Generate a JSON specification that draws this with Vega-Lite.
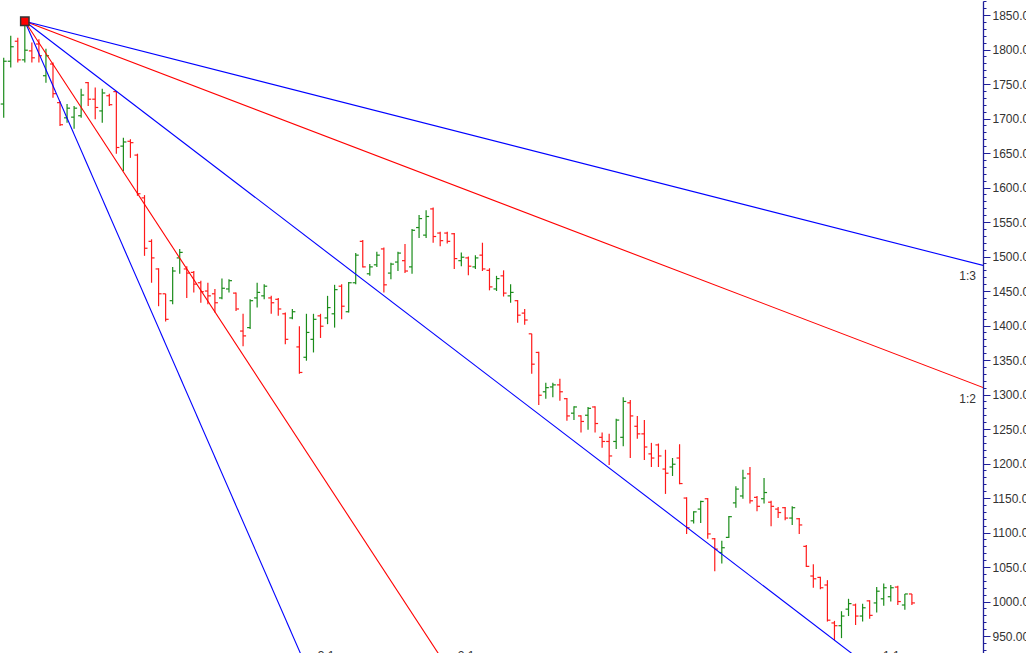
{
  "$schema": "https://vega.github.io/schema/vega-lite/v6.json",
  "width": 982,
  "height": 653,
  "padding": 0,
  "autosize": {"type": "pad"},
  "background": "white",
  "config": {
    "view": {"stroke": null},
    "axis": {"labelOverlap": false, "labelFlush": false, "labelBound": false}
  },
  "datasets": {
    "bars": [
      {"i":0,"o":1721,"h":1788,"l":1701,"c":1783},{"i":1,"o":1783,"h":1820,"l":1774,"c":1804},{"i":2,"o":1812,"h":1817,"l":1781,"c":1785},{"i":3,"o":1785,"h":1841,"l":1781,"c":1799},{"i":4,"o":1798,"h":1810,"l":1781,"c":1788},{"i":5,"o":1808,"h":1815,"l":1781,"c":1791},{"i":6,"o":1762,"h":1801,"l":1752,"c":1791},{"i":7,"o":1779,"h":1781,"l":1730,"c":1736},{"i":8,"o":1723,"h":1725,"l":1689,"c":1691},{"i":9,"o":1701,"h":1721,"l":1694,"c":1715},
      {"i":10,"o":1702,"h":1718,"l":1685,"c":1715},{"i":11,"o":1704,"h":1743,"l":1701,"c":1734},{"i":12,"o":1752,"h":1753,"l":1718,"c":1728},{"i":13,"o":1728,"h":1745,"l":1699,"c":1716},{"i":14,"o":1711,"h":1743,"l":1694,"c":1737},{"i":15,"o":1733,"h":1736,"l":1718,"c":1720},{"i":16,"o":1739,"h":1740,"l":1649,"c":1658},{"i":17,"o":1660,"h":1672,"l":1624,"c":1666},{"i":18,"o":1667,"h":1670,"l":1643,"c":1665},{"i":19,"o":1647,"h":1649,"l":1588,"c":1591},
      {"i":20,"o":1585,"h":1589,"l":1501,"c":1512},{"i":21,"o":1522,"h":1525,"l":1462,"c":1498},{"i":22,"o":1482,"h":1483,"l":1428,"c":1446},{"i":23,"o":1446,"h":1446,"l":1406,"c":1409},{"i":24,"o":1436,"h":1485,"l":1431,"c":1479},{"i":25,"o":1498,"h":1511,"l":1475,"c":1506},{"i":26,"o":1482,"h":1486,"l":1440,"c":1476},{"i":27,"o":1477,"h":1479,"l":1448,"c":1460},{"i":28,"o":1462,"h":1465,"l":1433,"c":1449},{"i":29,"o":1450,"h":1462,"l":1431,"c":1443},
      {"i":30,"o":1446,"h":1453,"l":1419,"c":1433},{"i":31,"o":1440,"h":1468,"l":1438,"c":1454},{"i":32,"o":1453,"h":1467,"l":1448,"c":1465},{"i":33,"o":1447,"h":1448,"l":1421,"c":1424},{"i":34,"o":1392,"h":1417,"l":1370,"c":1385},{"i":35,"o":1397,"h":1438,"l":1395,"c":1436},{"i":36,"o":1440,"h":1462,"l":1426,"c":1448},{"i":37,"o":1443,"h":1460,"l":1438,"c":1457},{"i":38,"o":1440,"h":1443,"l":1417,"c":1433},{"i":39,"o":1438,"h":1440,"l":1414,"c":1424},
      {"i":40,"o":1417,"h":1419,"l":1373,"c":1380},{"i":41,"o":1411,"h":1424,"l":1409,"c":1420},{"i":42,"o":1369,"h":1399,"l":1330,"c":1332},{"i":43,"o":1354,"h":1417,"l":1349,"c":1390},{"i":44,"o":1380,"h":1417,"l":1361,"c":1409},{"i":45,"o":1414,"h":1417,"l":1382,"c":1399},{"i":46,"o":1411,"h":1443,"l":1402,"c":1426},{"i":47,"o":1417,"h":1459,"l":1397,"c":1452},{"i":48,"o":1457,"h":1460,"l":1409,"c":1428},{"i":49,"o":1420,"h":1463,"l":1419,"c":1462},
      {"i":50,"o":1462,"h":1505,"l":1460,"c":1502},{"i":51,"o":1522,"h":1524,"l":1484,"c":1485},{"i":52,"o":1475,"h":1489,"l":1472,"c":1485},{"i":53,"o":1488,"h":1507,"l":1485,"c":1502},{"i":54,"o":1511,"h":1513,"l":1448,"c":1459},{"i":55,"o":1476,"h":1491,"l":1467,"c":1489},{"i":56,"o":1492,"h":1507,"l":1479,"c":1505},{"i":57,"o":1494,"h":1518,"l":1476,"c":1479},{"i":58,"o":1485,"h":1540,"l":1475,"c":1538},{"i":59,"o":1542,"h":1560,"l":1527,"c":1555},
      {"i":60,"o":1531,"h":1567,"l":1527,"c":1558},{"i":61,"o":1569,"h":1571,"l":1520,"c":1529},{"i":62,"o":1534,"h":1536,"l":1515,"c":1523},{"i":63,"o":1534,"h":1536,"l":1519,"c":1522},{"i":64,"o":1533,"h":1534,"l":1482,"c":1497},{"i":65,"o":1494,"h":1506,"l":1486,"c":1499},{"i":66,"o":1498,"h":1500,"l":1473,"c":1486},{"i":67,"o":1485,"h":1502,"l":1482,"c":1498},{"i":68,"o":1502,"h":1520,"l":1479,"c":1482},{"i":69,"o":1480,"h":1483,"l":1451,"c":1456},
      {"i":70,"o":1453,"h":1472,"l":1450,"c":1468},{"i":71,"o":1472,"h":1480,"l":1442,"c":1447},{"i":72,"o":1443,"h":1460,"l":1433,"c":1448},{"i":73,"o":1436,"h":1437,"l":1404,"c":1415},{"i":74,"o":1418,"h":1424,"l":1401,"c":1408},{"i":75,"o":1388,"h":1388,"l":1330,"c":1344},{"i":76,"o":1361,"h":1362,"l":1285,"c":1299},{"i":77,"o":1304,"h":1317,"l":1294,"c":1310},{"i":78,"o":1311,"h":1317,"l":1296,"c":1314},{"i":79,"o":1314,"h":1323,"l":1291,"c":1304},
      {"i":80,"o":1294,"h":1295,"l":1262,"c":1269},{"i":81,"o":1273,"h":1283,"l":1263,"c":1282},{"i":82,"o":1269,"h":1270,"l":1245,"c":1261},{"i":83,"o":1270,"h":1282,"l":1249,"c":1280},{"i":84,"o":1282,"h":1283,"l":1245,"c":1258},{"i":85,"o":1238,"h":1245,"l":1223,"c":1232},{"i":86,"o":1232,"h":1243,"l":1198,"c":1211},{"i":87,"o":1232,"h":1265,"l":1221,"c":1263},{"i":88,"o":1238,"h":1296,"l":1225,"c":1290},{"i":89,"o":1288,"h":1292,"l":1208,"c":1269},
      {"i":90,"o":1254,"h":1269,"l":1236,"c":1243},{"i":91,"o":1243,"h":1263,"l":1205,"c":1224},{"i":92,"o":1214,"h":1230,"l":1195,"c":1208},{"i":93,"o":1227,"h":1229,"l":1195,"c":1211},{"i":94,"o":1192,"h":1220,"l":1156,"c":1186},{"i":95,"o":1195,"h":1208,"l":1182,"c":1199},{"i":96,"o":1208,"h":1228,"l":1170,"c":1171},{"i":97,"o":1150,"h":1151,"l":1098,"c":1107},{"i":98,"o":1117,"h":1131,"l":1113,"c":1130},{"i":99,"o":1134,"h":1146,"l":1114,"c":1145},
      {"i":100,"o":1149,"h":1150,"l":1091,"c":1098},{"i":101,"o":1091,"h":1092,"l":1044,"c":1076},{"i":102,"o":1071,"h":1088,"l":1055,"c":1078},{"i":103,"o":1093,"h":1124,"l":1092,"c":1123},{"i":104,"o":1143,"h":1167,"l":1136,"c":1163},{"i":105,"o":1153,"h":1191,"l":1149,"c":1179},{"i":106,"o":1185,"h":1195,"l":1142,"c":1146},{"i":107,"o":1151,"h":1153,"l":1131,"c":1138},{"i":108,"o":1149,"h":1179,"l":1142,"c":1158},{"i":109,"o":1144,"h":1146,"l":1109,"c":1138},
      {"i":110,"o":1134,"h":1137,"l":1121,"c":1129},{"i":111,"o":1136,"h":1137,"l":1118,"c":1121},{"i":112,"o":1121,"h":1138,"l":1111,"c":1136},{"i":113,"o":1120,"h":1121,"l":1098,"c":1111},{"i":114,"o":1080,"h":1082,"l":1050,"c":1051},{"i":115,"o":1037,"h":1054,"l":1020,"c":1033},{"i":116,"o":1035,"h":1036,"l":1018,"c":1020},{"i":117,"o":1024,"h":1031,"l":971,"c":973},{"i":118,"o":969,"h":972,"l":944,"c":965},{"i":119,"o":965,"h":986,"l":947,"c":979},
      {"i":120,"o":989,"h":1004,"l":979,"c":997},{"i":121,"o":995,"h":997,"l":966,"c":979},{"i":122,"o":979,"h":997,"l":971,"c":991},{"i":123,"o":1001,"h":1002,"l":975,"c":980},{"i":124,"o":998,"h":1021,"l":984,"c":1015},{"i":125,"o":1004,"h":1026,"l":994,"c":1020},{"i":126,"o":1007,"h":1024,"l":1000,"c":1020},{"i":127,"o":1021,"h":1023,"l":995,"c":1000},{"i":128,"o":995,"h":1011,"l":988,"c":1011},{"i":129,"o":1011,"h":1011,"l":995,"c":998}
    ],
    "fan": [
      {"line":"3:1","i":3,"p":1841},{"line":"3:1","i":150,"p":-1598.8},
      {"line":"2:1","i":3,"p":1841},{"line":"2:1","i":150,"p":-452.2},
      {"line":"1:1","i":3,"p":1841},{"line":"1:1","i":150,"p":694.4},
      {"line":"1:2","i":3,"p":1841},{"line":"1:2","i":150,"p":1267.7},
      {"line":"1:3","i":3,"p":1841},{"line":"1:3","i":150,"p":1458.8}
    ],
    "rightLabels": [
      {"t":"1:3","i":138.1,"p":1487},
      {"t":"1:2","i":138.1,"p":1310}
    ],
    "bottomLabels": [
      {"t":"3:1","i":44.6,"p":928},
      {"t":"2:1","i":64.5,"p":928},
      {"t":"1:1","i":124.9,"p":928}
    ],
    "pivot": [{"i":3,"p":1841}]
  },
  "layer": [
    {
      "data": {"name": "bars"},
      "mark": {"type": "rule", "strokeWidth": 1.2},
      "encoding": {
        "x": {"field": "i", "type": "quantitative", "scale": {"domain": [-0.384, 139.1], "nice": false, "zero": false}, "axis": null},
        "y": {"field": "l", "type": "quantitative", "scale": {"domain": [924, 1870.3], "nice": false, "zero": false},
          "axis": {
            "orient": "right",
            "title": null,
            "grid": false,
            "tickCount": 200,
            "values": [930,940,950,960,970,980,990,1000,1010,1020,1030,1040,1050,1060,1070,1080,1090,1100,1110,1120,1130,1140,1150,1160,1170,1180,1190,1200,1210,1220,1230,1240,1250,1260,1270,1280,1290,1300,1310,1320,1330,1340,1350,1360,1370,1380,1390,1400,1410,1420,1430,1440,1450,1460,1470,1480,1490,1500,1510,1520,1530,1540,1550,1560,1570,1580,1590,1600,1610,1620,1630,1640,1650,1660,1670,1680,1690,1700,1710,1720,1730,1740,1750,1760,1770,1780,1790,1800,1810,1820,1830,1840,1850,1860,1870],
            "labelExpr": "datum.value % 50 === 0 ? format(datum.value, '.2f') : ''",
            "labelFontSize": {"condition": {"test": "datum.value % 50 === 0", "value": 12}, "value": 1},
            "tickSize": {"condition": {"test": "datum.value % 50 === 0", "value": 7}, "value": 3},
            "domainColor": "#1f1f99",
            "domainWidth": 1.3,
            "tickColor": "#1f1f99",
            "labelColor": "#333333",
            "labelFont": "Liberation Sans",
            "labelPadding": 2,
            "labelOverlap": false,
            "labelFlush": false,
            "labelBound": false
          }
        },
        "y2": {"field": "h"},
        "color": {"condition": {"test": "datum.c >= datum.o", "value": "#1a8c1a"}, "value": "#ff1a1a"}
      }
    },
    {
      "data": {"name": "bars"},
      "mark": {"type": "rule", "strokeWidth": 1.2, "xOffset": -3, "x2Offset": 0},
      "encoding": {
        "x": {"field": "i", "type": "quantitative"},
        "x2": {"field": "i"},
        "y": {"field": "o", "type": "quantitative", "title": null},
        "y2": {"field": "o"},
        "color": {"condition": {"test": "datum.c >= datum.o", "value": "#1a8c1a"}, "value": "#ff1a1a"}
      }
    },
    {
      "data": {"name": "bars"},
      "mark": {"type": "rule", "strokeWidth": 1.2, "xOffset": 0, "x2Offset": 3},
      "encoding": {
        "x": {"field": "i", "type": "quantitative"},
        "x2": {"field": "i"},
        "y": {"field": "c", "type": "quantitative", "title": null},
        "y2": {"field": "c"},
        "color": {"condition": {"test": "datum.c >= datum.o", "value": "#1a8c1a"}, "value": "#ff1a1a"}
      }
    },
    {
      "data": {"name": "fan"},
      "mark": {"type": "line", "strokeWidth": 1.1, "clip": true},
      "encoding": {
        "x": {"field": "i", "type": "quantitative"},
        "y": {"field": "p", "type": "quantitative", "title": null},
        "detail": {"field": "line"},
        "color": {"field": "line", "type": "nominal", "scale": {"domain": ["3:1","2:1","1:1","1:2","1:3"], "range": ["#0000ff","#ff0000","#0000ff","#ff0000","#0000ff"]}, "legend": null}
      }
    },
    {
      "data": {"name": "rightLabels"},
      "mark": {"type": "text", "align": "right", "baseline": "middle", "dy": 11, "font": "Liberation Sans", "fontSize": 12, "color": "#333333"},
      "encoding": {
        "x": {"field": "i", "type": "quantitative"},
        "y": {"field": "p", "type": "quantitative", "title": null},
        "text": {"field": "t"}
      }
    },
    {
      "data": {"name": "bottomLabels"},
      "mark": {"type": "text", "align": "left", "baseline": "top", "font": "Liberation Sans", "fontSize": 12, "color": "#333333"},
      "encoding": {
        "x": {"field": "i", "type": "quantitative"},
        "y": {"field": "p", "type": "quantitative", "title": null},
        "text": {"field": "t"}
      }
    },
    {
      "data": {"name": "pivot"},
      "mark": {"type": "point", "shape": "square", "size": 70, "filled": true, "fill": "#ff0000", "stroke": "#333333", "strokeWidth": 1.5, "opacity": 1},
      "encoding": {
        "x": {"field": "i", "type": "quantitative"},
        "y": {"field": "p", "type": "quantitative", "title": null}
      }
    }
  ]
}
